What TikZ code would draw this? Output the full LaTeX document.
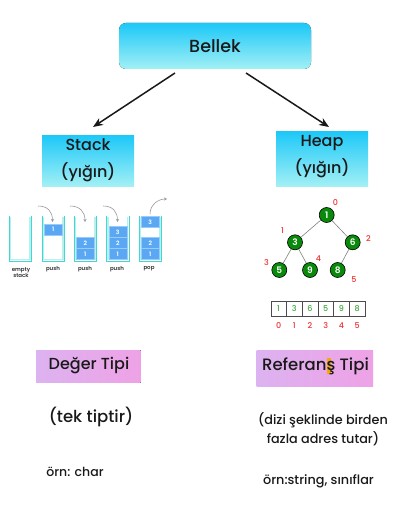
\documentclass[tikz,border=0pt]{standalone}
\usepackage{fontspec}
\setmainfont{Poppins}[UprightFont=* Medium, BoldFont=* SemiBold]
\usetikzlibrary{arrows.meta,shapes.geometric}
\definecolor{cyantop}{HTML}{1CC8F8}
\definecolor{cyanbot}{HTML}{A2F0F5}
\definecolor{pinkbox}{HTML}{EEA2E6}
\definecolor{pinklt}{HTML}{DDB2F0}
\definecolor{wallc}{HTML}{3FD8D2}
\definecolor{walllt}{HTML}{B8F0F0}
\definecolor{blk}{HTML}{5AA8F4}
\definecolor{blkedge}{HTML}{9ACBF8}
\definecolor{hgreen}{HTML}{0A8A0A}
\definecolor{hred}{HTML}{F03030}
\definecolor{agreen}{HTML}{3AAA3A}
\definecolor{hlorange}{HTML}{F5A800}
\tikzset{
  cyanbox/.style={top color=cyantop, bottom color=cyanbot, draw=none, inner sep=0pt},
  pinkrect/.style={left color=pinklt, right color=pinkbox, draw=none, inner sep=0pt},
  wall/.style={draw=wallc, line width=0.7pt},
  wallin/.style={draw=walllt, line width=1.2pt},
  block/.style={fill=blk, draw=blkedge, line width=0.5pt, minimum width=18pt, minimum height=11pt, inner sep=0pt, text=white, font=\fontsize{6}{6}\selectfont\bfseries},
  slabel/.style={font=\fontsize{5.5}{6}\selectfont\bfseries, text=black!80, align=center, inner sep=0pt},
  grayarr/.style={draw=gray!80, line width=0.6pt, -{Stealth[length=3pt,width=3pt]}},
  hnode/.style={circle, fill=hgreen, draw=black, line width=0.6pt, minimum size=15pt, inner sep=0pt, text=white, font=\fontsize{9}{9}\selectfont\bfseries},
  hidx/.style={text=hred, font=\fontsize{8}{8}\selectfont, inner sep=0pt},
  acell/.style={draw=black!70, line width=0.5pt, minimum width=15.7pt, minimum height=15.7pt, inner sep=0pt, text=agreen, font=\fontsize{8}{8}\selectfont},
  bigarr/.style={draw=black!90, line width=1.5pt, -{Stealth[length=10pt,width=8pt]}},
  txt/.style={inner sep=0pt, text=black!90, align=center}
}
\begin{document}
\begin{tikzpicture}[x=1pt,y=-1pt]
\useasboundingbox (0,0) rectangle (417,508);
% Bellek
\fill[cyanbox, rounded corners=7pt] (119,23) rectangle (311,69);
\node[txt, font=\fontsize{17.5}{18}\selectfont] (bellek) at (215,46) {Bellek};
\coordinate (bl) at (175,73);
\coordinate (br) at (246,73);
% Stack / Heap boxes
\fill[cyanbox] (42,135) rectangle (134,186);
\node[txt, font=\fontsize{16}{27}\selectfont] (stack) at (88,160.5) {Stack\\(yığın)};
\fill[cyanbox] (276,131) rectangle (368,186);
\node[txt, font=\fontsize{16}{27}\selectfont] (heap) at (322,156.5) {Heap\\(yığın)};
\coordinate (st) at (93,127);
\coordinate (ht) at (329,127);
\draw[bigarr] (bl) -- (st);
\draw[bigarr] (br) -- (ht);
% stack containers
\foreach \x in {9,42,74,106.5,139} {
  \draw[wallin] (\x+1.5,217) -- (\x+1.5,259.5) -- (\x+21,259.5) -- (\x+21,217);
  \draw[wall] (\x,216) -- (\x,261) -- (\x+22.5,261) -- (\x+22.5,216);
}
\node[block] (b1a) at (53.25,229.5) {1};
\node[block] (b2b) at (85.25,243) {2};
\node[block] (b1b) at (85.25,254) {1};
\node[block] (b3c) at (117.75,232) {3};
\node[block] (b2c) at (117.75,243) {2};
\node[block] (b1c) at (117.75,254) {1};
\node[block] (b3d) at (150.25,222) {3};
\node[block] (b2d) at (150.25,243) {2};
\node[block] (b1d) at (150.25,254) {1};
\node[slabel] (l1) at (21,273) {empty\\stack};
\node[slabel] (l2) at (53,269) {push};
\node[slabel] (l3) at (85,269) {push};
\node[slabel] (l4) at (117,269) {push};
\node[slabel] (l5) at (149,269) {pop};
\coordinate (p1s) at (38,206); \coordinate (p1e) at (52.5,222);
\coordinate (p2s) at (70,206); \coordinate (p2e) at (85,222);
\coordinate (p3s) at (103,206); \coordinate (p3e) at (117.5,222);
\coordinate (pps) at (150,214); \coordinate (ppe) at (167,199);
\draw[grayarr] (p1s) .. controls (48,206) and (52.5,212) .. (p1e);
\draw[grayarr] (p2s) .. controls (80,206) and (85,212) .. (p2e);
\draw[grayarr] (p3s) .. controls (113,206) and (117.5,212) .. (p3e);
\draw[grayarr] (pps) .. controls (150,205) and (158,199) .. (ppe);
% heap tree
\node[hnode] (n1) at (326.7,215) {1};
\node[hnode] (n3) at (295,242.3) {3};
\node[hnode] (n6) at (352.7,242.3) {6};
\node[hnode] (n5) at (279.3,270) {5};
\node[hnode] (n9) at (310,270) {9};
\node[hnode] (n8) at (337.7,270) {8};
\draw[gray, line width=0.6pt] (n1) -- (n3);
\draw[gray, line width=0.6pt] (n1) -- (n6);
\draw[gray, line width=0.6pt] (n3) -- (n5);
\draw[gray, line width=0.6pt] (n3) -- (n9);
\draw[gray, line width=0.6pt] (n6) -- (n8);
\node[hidx] (i0) at (335.5,203) {0};
\node[hidx] (i1) at (282.5,231) {1};
\node[hidx] (i2) at (368.5,239) {2};
\node[hidx] (i3) at (266.5,263) {3};
\node[hidx] (i4) at (318.5,259) {4};
\node[hidx] (i5) at (354,279.5) {5};
% array
\foreach \v [count=\i from 0] in {1,3,6,5,9,8} {
  \node[acell] (c\i) at (278.6+\i*15.7,308.8) {\v};
  \node[hidx] (k\i) at (278.6+\i*15.7,326) {\i};
}
% bottom
\fill[pinkrect] (36,350) rectangle (140.7,382.7);
\node[txt, font=\fontsize{16}{16}\selectfont] (deger) at (89,366) {Değer Tipi};
\fill[pinkrect] (256.7,350) rectangle (373,386.7);
\node[txt, font=\fontsize{16.5}{17}\selectfont] (ref) at (315.5,366) {Referan\makebox[0pt][l]{\raisebox{-0.22em}{\color{hlorange}\rule{0.28em}{0.95em}}}ş Tipi};
\node[txt, font=\fontsize{16.5}{17}\selectfont] (tek) at (91,417) {(tek tiptir)};
\node[txt, font=\fontsize{12.8}{19.5}\selectfont] (dizi) at (323,429) {(dizi şeklinde birden\\fazla adres tutar)};
\node[txt, font=\fontsize{12.5}{13}\selectfont] (ornl) at (75,472) {örn: char};
\node[txt, font=\fontsize{12.8}{13}\selectfont] (ornr) at (318.5,481) {örn:string, sınıflar};
\end{tikzpicture}
\end{document}
